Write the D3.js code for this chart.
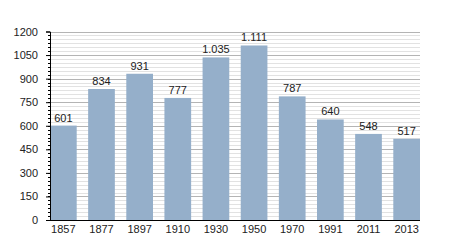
<!doctype html>
<html lang='en'>
  <head>
    <meta charset='utf-8' />
    <style>
      * { padding: 0; margin: 0; }
      body { background: #fff; }
      svg { display: block; font-family: 'Liberation Sans', Arial, sans-serif; }
    </style>
  </head>
  <body>
    <div id='container'></div>
    <script src='https://d3js.org/d3.v7.min.js'></script>
    <script type='text/javascript'>

      var years = ['1857','1877','1897','1910','1930','1950','1970','1991','2011','2013'];
      var population = [601,834,931,777,1035,1111,787,640,548,517];
      var yTicks = [0,150,300,450,600,750,900,1050,1200];

      const svg_width = 450, svg_height = 250;
      const plot_left = 50, plot_right = 420, plot_top = 31.5, plot_bottom = 220;

      var svg = d3.select('#container').append('svg')
          .attr('width', svg_width)
          .attr('height', svg_height);

      var x = d3.scaleBand()
          .domain(years)
          .range([plot_left, plot_right])
          .paddingInner(0.3)
          .paddingOuter(0)
          .align(0);

      var y = d3.scaleLinear()
          .domain([0, 1200])
          .range([plot_bottom, plot_top]);

      var py = function(d) { return Math.round(y(d)) + 0.5; };

      // minor grid every 25
      svg.append('g').selectAll('line')
        .data(d3.range(25, 1200, 25).filter(function(v) { return v % 150 != 0; }))
        .enter().append('line')
        .attr('x1', plot_left).attr('x2', plot_right)
        .attr('y1', py).attr('y2', py)
        .attr('stroke', '#e2e2e2');

      // major grid
      svg.append('g').selectAll('line')
        .data(yTicks.slice(1))
        .enter().append('line')
        .attr('x1', plot_left).attr('x2', plot_right)
        .attr('y1', py).attr('y2', py)
        .attr('stroke', '#b4b4b4');

      svg.selectAll('rect.bar')
        .data(population)
        .enter()
        .append('rect')
        .attr('class', 'bar')
        .attr('x', function(d, i) { return x(years[i]); })
        .attr('y', function(d) { return y(d); })
        .attr('width', x.bandwidth())
        .attr('height', function(d) { return plot_bottom - y(d); })
        .attr('fill', '#95afca');

      var fmt = function(v) { return d3.format(',')(v).replace(',', '.'); };

      svg.selectAll('text.val')
        .data(population)
        .enter()
        .append('text')
        .attr('class', 'val')
        .attr('x', function(d, i) { return x(years[i]) + x.bandwidth() / 2; })
        .attr('y', function(d) { return y(d) - 4; })
        .attr('text-anchor', 'middle')
        .attr('font-size', 11)
        .attr('fill', '#222')
        .text(fmt);

      // y axis with minor ticks
      var yAxis = svg.append('g')
        .attr('transform', 'translate(' + plot_left + ',0)')
        .call(d3.axisLeft(y).tickValues(yTicks).tickFormat(d3.format('d')).tickSize(4).tickPadding(8));
      svg.append('g').selectAll('line')
        .data(d3.range(25, 1200, 25))
        .enter().append('line')
        .attr('x1', plot_left - 2).attr('x2', plot_left)
        .attr('y1', py).attr('y2', py)
        .attr('stroke', '#000');

      var xAxis = svg.append('g')
        .attr('transform', 'translate(0,' + plot_bottom + ')')
        .call(d3.axisBottom(x).tickSize(0).tickPadding(5));
      xAxis.select('.domain').attr('d', 'M' + plot_left + ',0.5H' + plot_right);

      svg.selectAll('.tick text').attr('font-size', 11).attr('fill', '#222')
        .attr('font-family', "'Liberation Sans', Arial, sans-serif");
    </script>
  </body>
</html>
